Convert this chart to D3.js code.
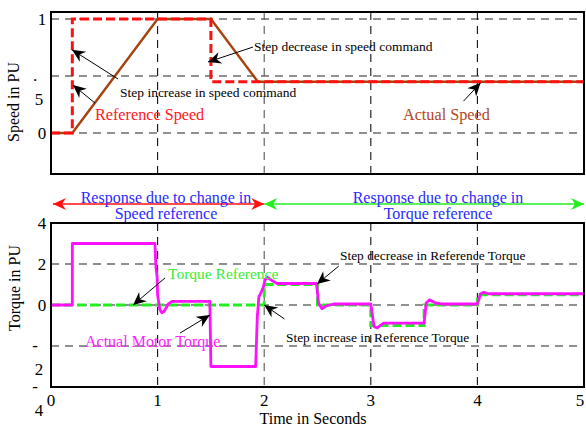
<!DOCTYPE html>
<html>
<head>
<meta charset="utf-8">
<script src="https://cdn.jsdelivr.net/npm/d3@7"></script>
<style>
  body { margin: 0; background: #fff; }
  svg text { font-family: "Liberation Serif", "DejaVu Serif", serif; }
</style>
</head>
<body>
<div id="chart"></div>
<script>
// time axis ticks
var timeTicks = [0, 1, 2, 3, 4, 5];

// speed (PU) vs time (s)
var speedRef = [[0, 0], [0.2, 0], [0.2, 1], [1.5, 1], [1.5, 0.45], [5, 0.45]];
var speedActual = [[0, 0], [0.2, 0], [1.0, 1], [1.5, 1], [1.94, 0.45], [5, 0.45]];

// torque (PU) vs time (s)
var torqueRef = [[0, 0], [2, 0], [2, 1], [2.5, 1], [2.5, 0], [3, 0], [3, -1], [3.5, -1],
  [3.5, 0], [4, 0], [4, 0.5], [5, 0.5]];
var torqueActual = [[0, 0], [0.2, 0], [0.2, 3], [0.975, 3], [0.985, 1.8], [0.995, 1.4],
  [1.0, 0.5], [1.02, -0.2], [1.04, -0.38], [1.06, -0.32], [1.1, 0.05], [1.14, 0.18],
  [1.49, 0.18], [1.5, -3], [1.92, -3], [1.935, -0.6], [1.95, 0.4], [1.97, 0.6], [1.99, 0.85],
  [2.01, 1.25], [2.03, 1.35], [2.07, 1.2], [2.12, 1.05], [2.49, 1.05], [2.51, 0.1],
  [2.54, -0.18], [2.58, -0.05], [2.65, 0.05], [3.0, 0.05], [3.03, -1.05], [3.06, -1.12],
  [3.12, -0.88], [3.5, -0.88], [3.52, 0.1], [3.55, 0.25], [3.6, 0.12], [3.66, 0.05],
  [4.0, 0.05], [4.03, 0.55], [4.06, 0.62], [4.1, 0.55], [5, 0.55]];

// gridline levels
var speedGrid = [0, 0.5, 1];
var torqueGrid = [-2, 0, 2];

// tick labels (the original export splits some labels over two lines)
var speedTickLabels = [[1, "1"], [0.5, ".", "5"], [0, "0"]];
var torqueTickLabels = [[4, "4"], [2, "2"], [0, "0"], [-2, "-", "2"], [-4, "-", "4"]];

// annotation arrows: [tailT, tailV, tipT, tipV]
var speedArrows = [[0.628, 0.474, 0.197, 0.73], [0.413, 0.263, 0.206, 0.42],
  [1.895, 0.754, 1.473, 0.623], [3.87, 0.28, 4.03, 0.44]];
var torqueArrows = [[1.07, 1.32, 0.77, 0], [1.21, -1.37, 1.49, -0.49],
  [2.70, 1.9, 2.495, 1.02], [2.19, -0.68, 2.0, 0]];

var W = 586, H = 428;
var svg = d3.select("#chart").append("svg").attr("width", W).attr("height", H);

var x = d3.scaleLinear().domain([0, 5]).range([51, 584]);
var yS = d3.scaleLinear().domain([0, 1]).range([133, 19]);
var yT = d3.scaleLinear().domain([-4, 4]).range([387, 223]);

var defs = svg.append("defs");
function marker(id, color) {
  defs.append("marker")
    .attr("id", id)
    .attr("markerUnits", "userSpaceOnUse")
    .attr("viewBox", "-14 -7 16 14")
    .attr("markerWidth", 16).attr("markerHeight", 14)
    .attr("refX", 0).attr("refY", 0)
    .attr("orient", "auto-start-reverse")
    .append("path")
    .attr("d", "M0,0 L-13,-6 L-9,0 L-13,6 Z")
    .attr("fill", color);
}
marker("ah", "#000");
marker("ahRed", "#ff1010");
marker("ahGreen", "#22ee22");

function panel(y, top, bottom, grid) {
  var g = svg.append("g");
  // gridlines
  g.selectAll(".hg").data(grid).enter().append("line")
    .attr("x1", x(0)).attr("x2", x(5))
    .attr("y1", function(d) { return y(d); }).attr("y2", function(d) { return y(d); })
    .attr("stroke", "#222").attr("stroke-width", 1.1).attr("stroke-dasharray", "8,6");
  g.selectAll(".vg").data(timeTicks.slice(1, 5)).enter().append("line")
    .attr("x1", function(d) { return x(d); }).attr("x2", function(d) { return x(d); })
    .attr("y1", top).attr("y2", bottom)
    .attr("stroke", function(d) { return d == 2 ? "#555" : "#111"; })
    .attr("stroke-width", 1.1).attr("stroke-dasharray", "8,6");
  return g;
}

function frame(top, bottom) {
  svg.append("rect")
    .attr("x", x(0)).attr("y", top)
    .attr("width", x(5) - x(0)).attr("height", bottom - top)
    .attr("fill", "none").attr("stroke", "#000").attr("stroke-width", 2);
}

function tickLabels(y, labels) {
  labels.forEach(function(l) {
    if (l.length == 2) {
      svg.append("text").attr("x", 42).attr("y", y(l[0]) + 6)
        .attr("text-anchor", "middle").attr("font-size", 17).text(l[1]);
    } else {
      svg.append("text").attr("x", 35).attr("y", y(l[0]) + 5)
        .attr("text-anchor", "middle").attr("font-size", 17).text(l[1]);
      svg.append("text").attr("x", 39).attr("y", y(l[0]) + 29)
        .attr("text-anchor", "middle").attr("font-size", 17).text(l[2]);
    }
  });
}

function arrows(y, list) {
  svg.selectAll(null).data(list).enter().append("line")
    .attr("x1", function(d) { return x(d[0]); }).attr("y1", function(d) { return y(d[1]); })
    .attr("x2", function(d) { return x(d[2]); }).attr("y2", function(d) { return y(d[3]); })
    .attr("stroke", "#000").attr("stroke-width", 1)
    .attr("marker-end", "url(#ah)");
}

// ---- speed panel ----
panel(yS, 12, 174, speedGrid);
var lineS = d3.line().x(function(d) { return x(d[0]); }).y(function(d) { return yS(d[1]); });
svg.append("path").datum(speedActual).attr("d", lineS)
  .attr("fill", "none").attr("stroke", "#a8420e").attr("stroke-width", 2.4);
svg.append("path").datum(speedRef).attr("d", lineS)
  .attr("fill", "none").attr("stroke", "#ff1010").attr("stroke-width", 3)
  .attr("stroke-dasharray", "9,4");
frame(12, 174);
tickLabels(yS, speedTickLabels);
arrows(yS, speedArrows);

svg.append("text").attr("x", 254).attr("y", 51).attr("font-size", 13.5)
  .text("Step decrease in speed command");
svg.append("text").attr("x", 120).attr("y", 97).attr("font-size", 13.5)
  .text("Step increase in speed command");
svg.append("text").attr("x", 95).attr("y", 120).attr("font-size", 16.2)
  .attr("fill", "#ff2020").text("Reference Speed");
svg.append("text").attr("x", 403).attr("y", 120).attr("font-size", 16.2)
  .attr("fill", "#b5471c").text("Actual Speed");
svg.append("text").attr("transform", "translate(19,102) rotate(-90)")
  .attr("text-anchor", "middle").attr("font-size", 16).text("Speed in PU");

// ---- region arrows ----
svg.append("line").attr("x1", x(0) + 2).attr("x2", x(2)).attr("y1", 204).attr("y2", 204)
  .attr("stroke", "#ff1010").attr("stroke-width", 1.3)
  .attr("marker-start", "url(#ahRed)").attr("marker-end", "url(#ahRed)");
svg.append("line").attr("x1", x(2)).attr("x2", x(5)).attr("y1", 204).attr("y2", 204)
  .attr("stroke", "#22ee22").attr("stroke-width", 1.3)
  .attr("marker-start", "url(#ahGreen)").attr("marker-end", "url(#ahGreen)");
[[166, "Response due to change in", "Speed reference"],
 [438, "Response due to change in", "Torque reference"]].forEach(function(r) {
  svg.append("text").attr("x", r[0]).attr("y", 203).attr("text-anchor", "middle")
    .attr("font-size", 16).attr("fill", "#2a2aff").text(r[1]);
  svg.append("text").attr("x", r[0]).attr("y", 219).attr("text-anchor", "middle")
    .attr("font-size", 16).attr("fill", "#2a2aff").text(r[2]);
});

// ---- torque panel ----
panel(yT, 223, 387, torqueGrid);
var lineT = d3.line().x(function(d) { return x(d[0]); }).y(function(d) { return yT(d[1]); });
svg.append("path").datum(torqueRef).attr("d", lineT)
  .attr("fill", "none").attr("stroke", "#22ee22").attr("stroke-width", 3)
  .attr("stroke-dasharray", "9,4");
svg.append("path").datum(torqueActual).attr("d", lineT)
  .attr("fill", "none").attr("stroke", "#ff10ff").attr("stroke-width", 2.8)
  .attr("stroke-linejoin", "round");
frame(223, 387);
tickLabels(yT, torqueTickLabels);
arrows(yT, torqueArrows);

svg.append("text").attr("x", 168).attr("y", 279).attr("font-size", 15.5)
  .attr("fill", "#33ee33").text("Torque Reference");
svg.append("text").attr("x", 85).attr("y", 347).attr("font-size", 16)
  .attr("fill", "#ff20ff").text("Actual Motor Torque");
svg.append("text").attr("x", 340).attr("y", 260).attr("font-size", 13.4)
  .text("Step decrease in Reference Torque");
svg.append("text").attr("x", 286).attr("y", 342).attr("font-size", 13.4)
  .text("Step increase in Reference Torque");

// time axis labels (last one kept inside the window)
svg.selectAll(null).data(timeTicks).enter().append("text")
  .attr("x", function(d) { return d == 5 ? x(d) - 4 : x(d); }).attr("y", 406)
  .attr("text-anchor", "middle").attr("font-size", 17).text(function(d) { return d; });
svg.append("text").attr("x", 313).attr("y", 424).attr("text-anchor", "middle")
  .attr("font-size", 16).text("Time in Seconds");
svg.append("text").attr("transform", "translate(20,288) rotate(-90)")
  .attr("text-anchor", "middle").attr("font-size", 16).text("Torque in PU");
</script>
</body>
</html>
